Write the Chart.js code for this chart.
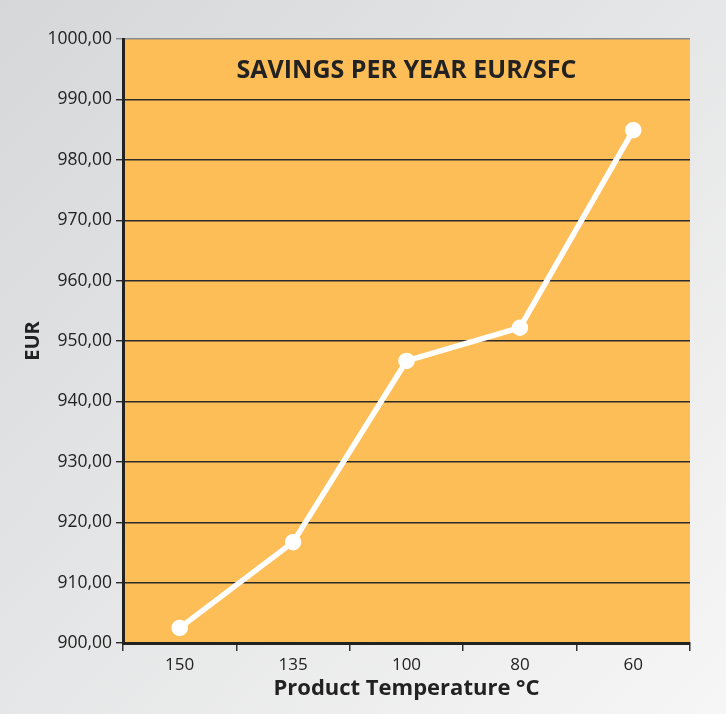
<!DOCTYPE html>
<html>
<head>
  <title>Savings per year</title>
  <script src="https://cdn.jsdelivr.net/npm/chart.js"></script>
  <style>
    html, body { margin: 0; padding: 0; }
    body { width: 726px; height: 714px; overflow: hidden; }
    canvas { display: block; }
  </style>
</head>
<body>
  <canvas id="savingsChart" width="726" height="714"></canvas>

  <script>
    const temperatures = ['150', '135', '100', '80', '60'];
    const savings = [902.5, 916.7, 946.7, 952.2, 984.9];
    const yMin = 900;
    const yMax = 1000;
    const yStep = 10;
    const chartTitle = 'SAVINGS PER YEAR EUR/SFC';
    const xTitle = 'Product Temperature °C';
    const yTitle = 'EUR';

    const FONT = "'Open Sans', 'Noto Sans', sans-serif";

    // grey page background + orange plot area + title inside the plot
    const backdrop = {
      id: 'backdrop',
      beforeDraw(chart) {
        const { ctx, width, height, chartArea } = chart;
        ctx.save();
        const g = ctx.createLinearGradient(0, 0, width, height);
        g.addColorStop(0, '#d6d7d9');
        g.addColorStop(1, '#f6f6f6');
        ctx.fillStyle = g;
        ctx.fillRect(0, 0, width, height);
        ctx.fillStyle = '#febe57';
        ctx.fillRect(chartArea.left, chartArea.top, chartArea.right - chartArea.left, chartArea.bottom - chartArea.top);
        ctx.restore();
      },
      beforeDatasetsDraw(chart) {
        const { ctx, chartArea } = chart;
        ctx.save();
        ctx.fillStyle = '#222';
        ctx.font = "bold 25px " + FONT;
        ctx.textAlign = 'center';
        ctx.textBaseline = 'middle';
        ctx.fillText(chartTitle, (chartArea.left + chartArea.right) / 2, chartArea.top + 32);
        ctx.restore();
      }
    };

    const ctx = document.getElementById('savingsChart').getContext('2d');
    new Chart(ctx, {
      type: 'line',
      data: {
        labels: temperatures,
        datasets: [{
          data: savings,
          borderColor: '#ffffff',
          backgroundColor: '#ffffff',
          borderWidth: 5.5,
          pointRadius: 5.5,
          pointHoverRadius: 5.5,
          tension: 0
        }]
      },
      options: {
        responsive: false,
        animation: false,
        layout: { padding: { top: 39, right: 36, left: 0, bottom: 0 } },
        plugins: {
          legend: { display: false },
          tooltip: { enabled: false }
        },
        scales: {
          x: {
            offset: true,
            afterFit(scale) { scale.height = 71; },
            grid: {
              offset: true,
              drawOnChartArea: false,
              drawTicks: true,
              tickLength: 8,
              color: '#333',
              lineWidth: 1.5
            },
            border: { display: true, color: '#222', width: 3 },
            ticks: {
              color: '#222',
              padding: 4,
              font: { family: FONT, size: 17 }
            },
            title: {
              display: true,
              text: xTitle,
              color: '#222',
              padding: { top: 0, bottom: 12 },
              font: { family: FONT, size: 22, weight: 'bold' }
            }
          },
          y: {
            min: yMin,
            max: yMax,
            afterFit(scale) { scale.width = 123; },
            grid: {
              color: c => (c.tick && c.tick.value === yMax) ? '#8a8a8a' : '#2b2b2b',
              lineWidth: 1.4,
              tickLength: 7
            },
            border: { display: true, color: '#222', width: 3 },
            ticks: {
              stepSize: yStep,
              color: '#222',
              padding: 4,
              font: { family: FONT, size: 17.5 },
              callback: v => v.toFixed(2).replace('.', ',')
            },
            title: {
              display: true,
              text: yTitle,
              color: '#222',
              padding: { top: 21, bottom: 0 },
              font: { family: FONT, size: 20, weight: 'bold' }
            }
          }
        }
      },
      plugins: [backdrop]
    });
  </script>
</body>
</html>
